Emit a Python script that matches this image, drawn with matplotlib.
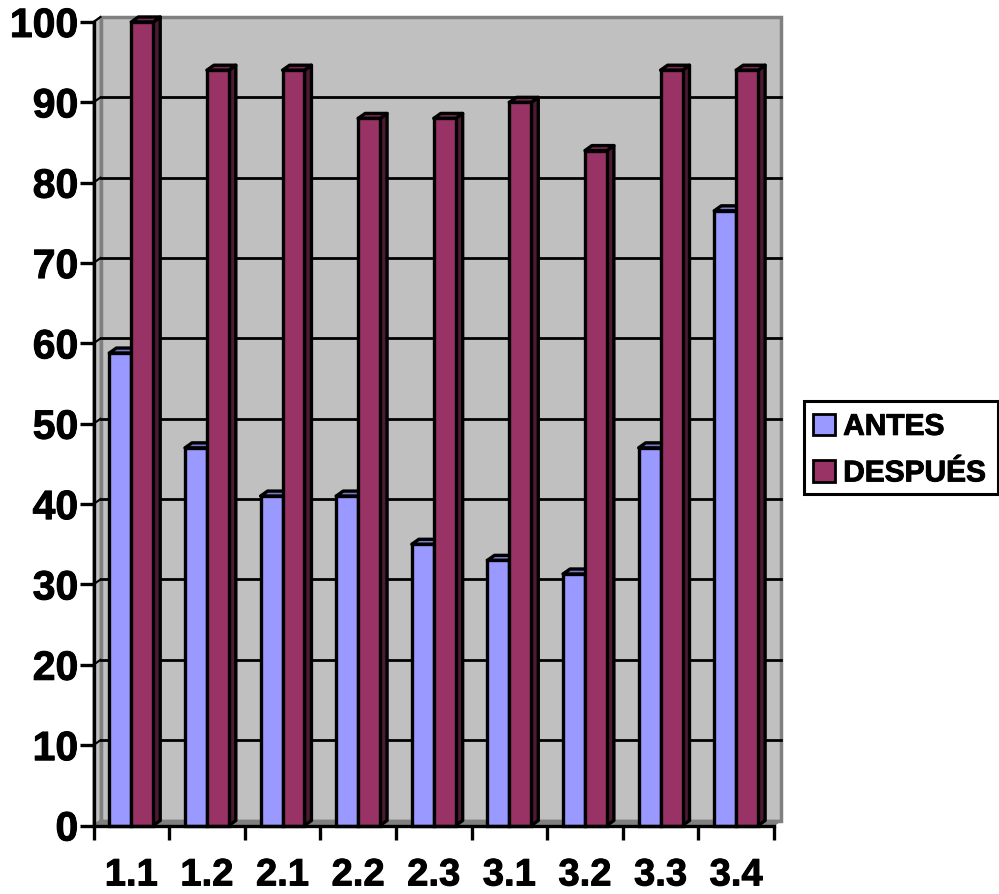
import matplotlib
matplotlib.use("Agg")
import matplotlib.pyplot as plt
import matplotlib.patheffects as pe
from matplotlib.patches import Patch, Rectangle

plt.rcParams["font.family"] = ["Liberation Sans", "DejaVu Sans"]
plt.rcParams["font.weight"] = "bold"

categories = ["1.1", "1.2", "2.1", "2.2", "2.3", "3.1", "3.2", "3.3", "3.4"]
antes = [58.8, 47, 41, 41, 35, 33, 31.3, 47, 76.5]
despues = [100, 94, 94, 88, 88, 90, 84, 94, 94]

W, H = 999, 894
fig = plt.figure(figsize=(W / 100, H / 100), dpi=100)
ax = fig.add_axes([93.5 / W, 1 - 825.5 / H, 680.5 / W, 803.5 / H])
ax.set_xlim(0, 9)
ax.set_ylim(0, 100)

# depth of the fake 3d box, in data units
dx = 7 / (680.5 / 9)
dy = 5 / 8.035
bar_w = 0.29
lw = 2.4
edge = "black"
wall = "#c0c0c0"
wall_edge = "#808080"

# back wall, left wall, floor
ax.fill([dx, 9 + dx, 9 + dx, dx], [dy, dy, 100 + dy, 100 + dy], fc=wall, ec=wall_edge, lw=2.5, zorder=1, clip_on=False)
ax.fill([0, dx, dx, 0], [0, dy, 100 + dy, 100], fc=wall, ec=wall_edge, lw=1.5, zorder=1, clip_on=False)
ax.fill([0, 9, 9 + dx, dx], [0, 0, dy, dy], fc=wall_edge, ec=wall_edge, lw=1, zorder=1.5, clip_on=False)

# gridlines on walls
for v in range(10, 100, 10):
    ax.plot([dx, 9 + dx], [v + dy, v + dy], color="black", lw=2, zorder=2, clip_on=False)
    ax.plot([0, dx], [v, v + dy], color="black", lw=1.5, zorder=2, clip_on=False)
ax.plot([0, dx], [100, 100 + dy], color="black", lw=1.5, zorder=2, clip_on=False)


def bar3d(x, val, front, top, side, z):
    ax.fill([x + bar_w, x + bar_w + dx, x + bar_w + dx, x + bar_w],
            [0, dy, val + dy, val], fc=side, ec=edge, lw=lw, zorder=z, clip_on=False, joinstyle="round")
    ax.fill([x, x + bar_w, x + bar_w + dx, x + dx],
            [val, val, val + dy, val + dy], fc=top, ec=edge, lw=lw, zorder=z, clip_on=False, joinstyle="round")
    ax.bar(x, val, width=bar_w, align="edge", color=front, edgecolor=edge, linewidth=lw, zorder=z + 0.1, clip_on=False)


for i in range(len(categories)):
    x0 = i + 0.21
    bar3d(x0, antes[i], "#9999ff", "#7a7acc", "#4d4d80", 3 + i * 0.5)
    bar3d(x0 + bar_w, despues[i], "#993366", "#7a2952", "#4d1a33", 3.2 + i * 0.5)

for s in ["top", "right"]:
    ax.spines[s].set_visible(False)
for s in ["left", "bottom"]:
    ax.spines[s].set_linewidth(2.4)
    ax.spines[s].set_zorder(10)

thick = [pe.withStroke(linewidth=0.7, foreground="black")]

ax.set_yticks(range(0, 101, 10))
ax.tick_params(axis="y", length=10, width=2.4, labelsize=29.5, pad=1)
ax.set_xticks(range(0, 10))
ax.set_xticklabels([])
ax.tick_params(axis="x", which="major", length=10, width=2.4)
ax.set_xticks([i + 0.5 for i in range(9)], minor=True)
ax.set_xticklabels(categories, minor=True, fontsize=27.5)
ax.tick_params(axis="x", which="minor", length=0, pad=23)
for t in ax.get_yticklabels() + ax.get_xticklabels(minor=True):
    t.set_path_effects(thick)

# legend box drawn apart, the legend's own frame comes out too tall
fig.add_artist(Rectangle((803.5 / W, 1 - 493.5 / H), 194 / W, 93 / H, transform=fig.transFigure,
                         fc="white", ec="black", lw=2.2))
handles = [Patch(fc="#9999ff", ec="black", lw=2, label="ANTES"),
           Patch(fc="#993366", ec="black", lw=2, label="DESPUÉS")]
leg = fig.legend(handles=handles, loc="upper left",
                 bbox_to_anchor=(803.5 / W, 1 - 403 / H),
                 fontsize=21.5, frameon=False,
                 handlelength=0.72, handleheight=0.72, handletextpad=0.28, labelspacing=0.62,
                 borderpad=0.33, borderaxespad=0)
for t in leg.get_texts():
    t.set_path_effects(thick)

fig.savefig("out.png", dpi=100)
plt.close(fig)
